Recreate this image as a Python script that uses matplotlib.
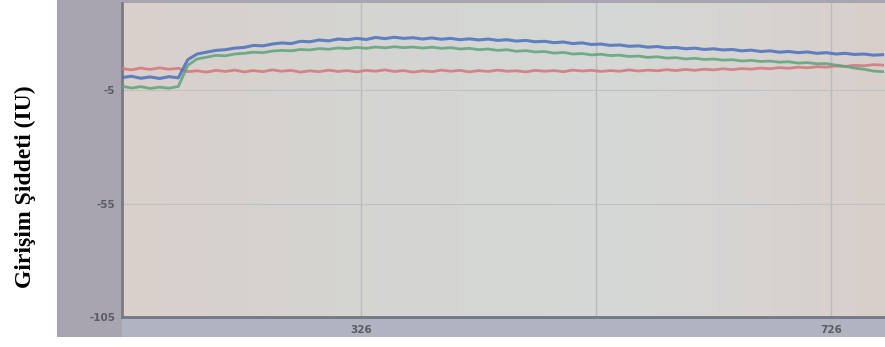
import numpy as np
import matplotlib
matplotlib.use("Agg")
import matplotlib.pyplot as plt
from matplotlib.patches import Rectangle
from matplotlib.colors import LinearSegmentedColormap

# Sample positions (x axis units)
x_vals = list(range(122, 771, 8))

# Three recorded interference traces
blue_vals = [
    0.6, 1.2, 0.3, 0.9, 0.2, 1.0, 0.5, 8.5,
    11.0, 11.8, 12.6, 12.9, 13.6, 13.9, 14.8, 14.6, 15.4, 15.9,
    15.6, 16.6, 16.4, 17.2, 16.8, 17.6, 17.3, 17.9, 17.4, 18.3,
    17.8, 18.4, 17.9, 18.2, 17.6, 18.1, 17.5, 17.9, 17.3, 17.7,
    17.2, 17.6, 17.0, 17.3, 16.7, 17.0, 16.4, 16.6, 16.0, 16.3,
    15.6, 15.9, 15.2, 15.4, 14.8, 15.0, 14.4, 14.6, 14.0, 14.3,
    13.7, 13.9, 13.3, 13.6, 13.0, 13.3, 12.8, 13.0, 12.4, 12.7,
    12.1, 12.4, 11.8, 12.1, 11.6, 11.9, 11.3, 11.6, 11.0, 11.3,
    10.8, 11.0, 10.5, 10.7,
]
green_vals = [
    -3.2, -4.0, -3.4, -4.2, -3.6, -4.1, -3.3, 6.0,
    8.8, 9.6, 10.4, 10.2, 11.0, 11.3, 11.8, 11.6, 12.3, 12.6,
    12.4, 13.0, 12.8, 13.4, 13.1, 13.7, 13.4, 13.9, 13.5, 14.1,
    13.7, 14.2, 13.8, 14.1, 13.6, 14.0, 13.5, 13.8, 13.2, 13.5,
    12.9, 13.2, 12.6, 12.9, 12.2, 12.5, 11.9, 12.1, 11.4, 11.7,
    11.0, 11.2, 10.6, 10.9, 10.3, 10.5, 9.9, 10.1, 9.5, 9.8,
    9.2, 9.4, 8.8, 9.1, 8.6, 8.8, 8.3, 8.5, 7.9, 8.2,
    7.7, 7.9, 7.4, 7.6, 7.0, 7.2, 6.7, 6.8, 6.1, 5.6,
    4.8, 4.3, 3.5, 3.2,
]
red_vals = [
    4.6, 4.0, 4.8, 4.2, 4.9, 4.3, 4.7, 3.2,
    3.6, 3.0, 3.8, 3.3, 3.9, 3.1, 3.7, 3.2, 4.0, 3.4,
    3.8, 3.0, 3.6, 3.2, 3.9, 3.3, 3.7, 3.1, 3.8, 3.4,
    4.0, 3.3, 3.7, 3.0, 3.6, 3.2, 3.9, 3.4, 3.8, 3.1,
    3.7, 3.3, 3.9, 3.4, 3.6, 3.1, 3.8, 3.4, 3.7, 3.2,
    3.9, 3.5, 3.8, 3.3, 3.7, 3.4, 4.0, 3.5, 3.9, 3.6,
    4.1, 3.7, 4.2, 3.8, 4.3, 4.0, 4.5, 4.1, 4.6, 4.3,
    4.8, 4.5, 5.0, 4.7, 5.2, 4.9, 5.4, 5.2, 5.7, 5.5,
    6.0, 5.8, 6.3, 6.1,
]

y_ticks = [-5, -55, -105]
y_tick_labels = ["-5", "-55", "-105"]
x_ticks = [326, 726]
x_tick_labels = ["326", "726"]
x_grid_extra = [526]
y_label = "Girişim Şiddeti (IU)"

W, H = 885, 347
fig = plt.figure(figsize=(W / 100, H / 100), dpi=100)
fig.patch.set_facecolor("white")

# Instrument screen panel behind the plot
fig.patches.append(Rectangle((57 / W, 10 / H), 1 - 57 / W, 1 - 10 / H,
                             transform=fig.transFigure, facecolor="#a9a5b0",
                             edgecolor="none", zorder=-10))
# Bottom label strip of the screen
fig.patches.append(Rectangle((122 / W, 10 / H), 1 - 122 / W, 20 / H,
                             transform=fig.transFigure, facecolor="#b0b4c0",
                             edgecolor="none", zorder=-9))

ax = fig.add_axes([122 / W, 30 / H, 1 - 122 / W, (H - 30 - 3) / H])
ax.set_zorder(1)

# Plot-area shading
cmap = LinearSegmentedColormap.from_list(
    "screen", ["#dacfcb", "#d4d5d2", "#d5d8d6", "#d9cfcb"])
grad = np.linspace(0, 1, 256).reshape(1, -1)
ax.imshow(grad, aspect="auto", cmap=cmap, extent=[0, 1, 0, 1],
          transform=ax.transAxes, zorder=0)
ax.set_xlim(122, 772)
ax.set_ylim(-105, 33.5)
ax.set_facecolor("#d5d6d4")

# Grid
for gx in x_ticks + x_grid_extra:
    ax.axvline(gx, color="#b8bcbd", lw=1.0, zorder=1)
for gy in y_ticks[:2]:
    ax.axhline(gy, color="#bfc1c2", lw=0.8, zorder=1)

ax.plot(x_vals, red_vals, color="#d2767a", lw=2.0, alpha=0.85, zorder=3)
ax.plot(x_vals, green_vals, color="#5fa37c", lw=2.0, alpha=0.85, zorder=3)
ax.plot(x_vals, blue_vals, color="#4a70bd", lw=2.2, alpha=0.85, zorder=4)

ax.set_xticks(x_ticks)
ax.set_xticklabels(x_tick_labels)
ax.set_yticks(y_ticks)
ax.set_yticklabels(y_tick_labels)
ax.tick_params(axis="both", length=0, labelsize=7.5, labelcolor="#5a5c66")
ax.tick_params(axis="x", pad=6)
ax.tick_params(axis="y", pad=5)
for lab in ax.get_xticklabels() + ax.get_yticklabels():
    lab.set_fontweight("bold")

for side in ("top", "right"):
    ax.spines[side].set_visible(False)
ax.spines["left"].set_color("#7a7a84")
ax.spines["left"].set_linewidth(2.0)
ax.spines["bottom"].set_color("#737785")
ax.spines["bottom"].set_linewidth(2.0)

fig.text(25 / W, 1 - 187 / H, y_label, rotation=90, ha="center", va="center",
         fontsize=17, fontweight="bold", family="Liberation Serif", color="black")

fig.savefig("out.png", dpi=100, facecolor="white")
